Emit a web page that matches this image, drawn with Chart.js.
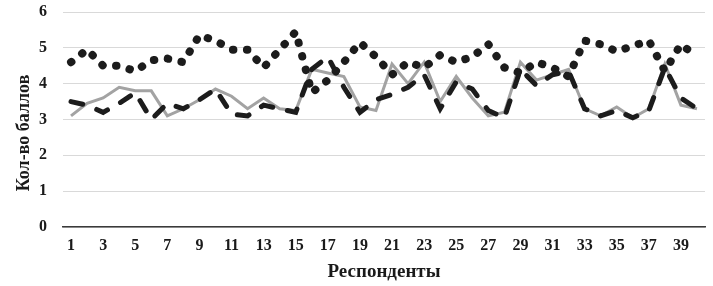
<!DOCTYPE html>
<html>
<head>
<meta charset="utf-8">
<script src="https://cdn.jsdelivr.net/npm/chart.js@4/dist/chart.umd.min.js"></script>
<style>
  body { margin: 0; background: #fff; }
  #wrap { width: 713px; height: 286px; }
</style>
</head>
<body>
<div id="wrap"><canvas id="myChart"></canvas></div>
<script>
// respondents 1..40
var respondents = ["1","2","3","4","5","6","7","8","9","10",
                   "11","12","13","14","15","16","17","18","19","20",
                   "21","22","23","24","25","26","27","28","29","30",
                   "31","32","33","34","35","36","37","38","39","40"];

// dotted black line
var dotted_vals = [4.6, 4.95, 4.5, 4.5, 4.35, 4.65, 4.7, 4.6, 5.35, 5.2,
                   4.95, 4.95, 4.45, 4.95, 5.45, 3.75, 4.1, 4.6, 5.15, 4.75,
                   4.25, 4.6, 4.45, 4.8, 4.6, 4.75, 5.1, 4.45, 4.3, 4.6,
                   4.45, 4.2, 5.2, 5.1, 4.9, 5.05, 5.2, 4.35, 5.1, 4.75];

// dashed black line
var dashed_vals = [3.5, 3.4, 3.2, 3.45, 3.75, 3.0, 3.45, 3.3, 3.55, 3.85,
                   3.15, 3.1, 3.4, 3.3, 3.2, 4.4, 4.75, 3.9, 3.2, 3.55,
                   3.7, 3.9, 4.25, 3.3, 4.05, 3.85, 3.25, 3.05, 4.4, 3.95,
                   4.25, 4.35, 3.3, 3.1, 3.25, 3.05, 3.25, 4.45, 3.6, 3.3];

// solid grey line
var grey_vals = [3.1, 3.45, 3.6, 3.9, 3.8, 3.8, 3.1, 3.3, 3.55, 3.85,
                 3.65, 3.3, 3.6, 3.3, 3.25, 4.4, 4.3, 4.2, 3.35, 3.25,
                 4.55, 4.0, 4.6, 3.5, 4.2, 3.6, 3.1, 3.2, 4.6, 4.1,
                 4.25, 4.4, 3.3, 3.1, 3.35, 3.05, 3.3, 4.55, 3.4, 3.3];

var y_min = 0;
var y_max = 6;
var y_step = 1;

var serif = "'Liberation Serif', 'Times New Roman', serif";
var ctx = document.getElementById("myChart").getContext('2d');

var myChart = new Chart(ctx, {
    type: 'line',
    data: {
        labels: respondents,
        datasets: [
            {   // drawn on top
                data: dotted_vals,
                borderColor: '#1c1c1c',
                borderWidth: 8,
                borderDash: [0.5, 13.5],
                borderCapStyle: 'round',
                pointRadius: 0,
                tension: 0
            },
            {
                data: dashed_vals,
                borderColor: '#1c1c1c',
                borderWidth: 5,
                borderDash: [12, 15],
                borderCapStyle: 'round',
                pointRadius: 0,
                tension: 0
            },
            {
                data: grey_vals,
                borderColor: '#a3a3a3',
                borderWidth: 3,
                pointRadius: 0,
                tension: 0
            }
        ]
    },
    options: {
        responsive: true,
        maintainAspectRatio: false,
        animation: false,
        layout: { autoPadding: false, padding: { left: 0, right: 8, top: 12, bottom: 0 } },
        plugins: {
            legend: { display: false },
            tooltip: { enabled: false }
        },
        scales: {
            x: {
                offset: true,
                grid: { display: false, drawTicks: false },
                border: { display: true, color: '#3a3a3a', width: 1.5 },
                ticks: {
                    autoSkip: false,
                    maxRotation: 0,
                    padding: 9,
                    color: '#1a1a1a',
                    font: { family: serif, size: 16, weight: 'bold' },
                    callback: function (value, index) {
                        return (index % 2 == 0) ? respondents[index] : '';
                    }
                },
                title: {
                    display: true,
                    text: 'Респонденты',
                    color: '#1a1a1a',
                    font: { family: serif, size: 19, weight: 'bold' },
                    padding: { top: 0, bottom: 3 }
                },
                afterFit: function (scale) {
                    scale.height = 59;
                    scale.paddingTop = 0;
                    scale.paddingBottom = 0;
                }
            },
            y: {
                min: y_min,
                max: y_max,
                grid: { color: '#d9d9d9', lineWidth: 1, drawTicks: false },
                border: { display: false },
                ticks: {
                    stepSize: y_step,
                    padding: 16,
                    color: '#1a1a1a',
                    font: { family: serif, size: 16, weight: 'bold' }
                },
                title: {
                    display: true,
                    // trailing spaces push the text a little lower, as in the original
                    text: 'Кол-во баллов\u00a0\u00a0\u00a0\u00a0\u00a0\u00a0',
                    color: '#1a1a1a',
                    font: { family: serif, size: 18, weight: 'bold' },
                    padding: { top: 14, bottom: 0 }
                },
                afterFit: function (scale) {
                    scale.width = 63;
                    scale.paddingTop = 0;
                    scale.paddingBottom = 0;
                }
            }
        }
    }
});
</script>
</body>
</html>
